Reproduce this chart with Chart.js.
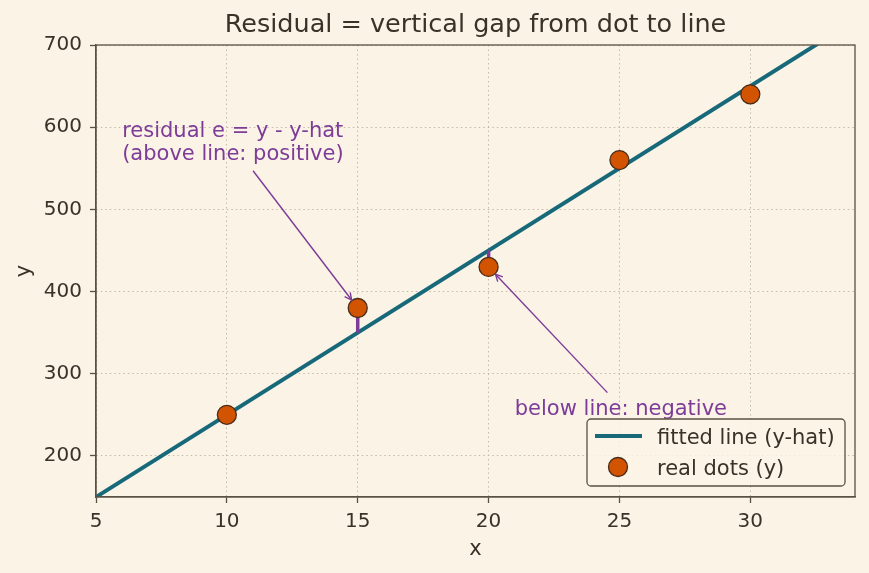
<!DOCTYPE html>
<html>
<head>
<meta charset="utf-8">
<script src="https://cdn.jsdelivr.net/npm/chart.js@4"></script>
<style>
html,body{margin:0;padding:0;background:#FAF3E6;}
canvas{display:block;}
</style>
</head>
<body>
<canvas id="c" width="869" height="573"></canvas>
<script>
// ---- data ----
const dotX = [10, 15, 20, 25, 30];
const dotY = [250, 380, 430, 560, 640];
const fitSlope = 20;
const fitIntercept = 50;
const fitLineX = [5, 35];
const residualX = [15, 20];
const xTicks = [5, 10, 15, 20, 25, 30];
const yTicks = [200, 300, 400, 500, 600, 700];
const xRange = [5, 34];
const yRange = [150, 700];
const titleText = 'Residual = vertical gap from dot to line';
const annotAbove = ['residual e = y - y-hat', '(above line: positive)'];
const annotAbovePos = [6.0, 560];
const arrowAbove = [[11.0, 547], [15, 380]];
const annotBelow = 'below line: negative';
const annotBelowPos = [21.0, 250];
const arrowBelow = [[24.54, 277], [20, 430]];
const legendLabels = ['fitted line (y-hat)', 'real dots (y)'];

// ---- styles ----
const BG = '#FAF3E6';
const TEXT = '#3b3128';
const AXIS = '#5b5044';
const GRID = '#c4baa9';
const TEAL = '#17697A';
const ORANGE = '#D35400';
const DOTEDGE = '#4a2c1a';
const PURPLE = '#7D3C98';
const FONT = "'DejaVu Sans', sans-serif";
const FS = 21;
const TFS = 20;

const fitY = x => fitSlope * x + fitIntercept;

const lineData = fitLineX.map(x => ({x, y: fitY(x)}));
const dotData = dotX.map((x, i) => ({x, y: dotY[i]}));
const residualSets = residualX.map(x => {
  const i = dotX.indexOf(x);
  return {
    label: 'res' + x,
    type: 'line',
    data: [{x, y: dotY[i]}, {x, y: fitY(x)}],
    borderColor: PURPLE,
    borderWidth: 3.5,
    pointRadius: 0,
    showLine: true,
    order: 2
  };
});

function drawArrow(ctx, x1, y1, x2, y2, shrink) {
  const dx = x2 - x1, dy = y2 - y1;
  const len = Math.hypot(dx, dy);
  const ux = dx / len, uy = dy / len;
  const ex = x2 - ux * shrink, ey = y2 - uy * shrink;
  ctx.beginPath();
  ctx.moveTo(x1, y1);
  ctx.lineTo(ex, ey);
  ctx.stroke();
  const hl = 7, hw = 3.5;
  ctx.beginPath();
  ctx.moveTo(ex - ux * hl + uy * hw, ey - uy * hl - ux * hw);
  ctx.lineTo(ex, ey);
  ctx.lineTo(ex - ux * hl - uy * hw, ey - uy * hl + ux * hw);
  ctx.stroke();
}

const decor = {
  id: 'decor',
  beforeDraw(chart) {
    const ctx = chart.ctx;
    ctx.save();
    ctx.fillStyle = BG;
    ctx.fillRect(0, 0, chart.width, chart.height);
    ctx.restore();
  },
  afterDraw(chart) {
    const ctx = chart.ctx;
    const xs = chart.scales.x, ys = chart.scales.y;
    const a = chart.chartArea;
    ctx.save();
    // frame
    ctx.strokeStyle = AXIS;
    ctx.lineWidth = 1.3;
    ctx.strokeRect(a.left, a.top, a.right - a.left, a.bottom - a.top);
    // title
    ctx.fillStyle = TEXT;
    ctx.font = '25.5px ' + FONT;
    ctx.textAlign = 'center';
    ctx.textBaseline = 'middle';
    ctx.fillText(titleText, (a.left + a.right) / 2, 25);
    // axis titles
    ctx.font = FS + 'px ' + FONT;
    ctx.fillText('x', (a.left + a.right) / 2, 550);
    ctx.save();
    ctx.translate(25, (a.top + a.bottom) / 2);
    ctx.rotate(-Math.PI / 2);
    ctx.fillText('y', 0, 0);
    ctx.restore();

    // annotations
    ctx.fillStyle = PURPLE;
    ctx.strokeStyle = PURPLE;
    ctx.lineWidth = 1.4;
    ctx.textAlign = 'left';
    ctx.textBaseline = 'alphabetic';
    ctx.font = FS + 'px ' + FONT;
    const ax = xs.getPixelForValue(annotAbovePos[0]);
    const ay = ys.getPixelForValue(annotAbovePos[1]);
    ctx.fillText(annotAbove[0], ax, ay - 23);
    ctx.fillText(annotAbove[1], ax, ay);
    const bx = xs.getPixelForValue(annotBelowPos[0]);
    const by = ys.getPixelForValue(annotBelowPos[1]);
    ctx.fillText(annotBelow, bx, by);
    drawArrow(ctx,
      xs.getPixelForValue(arrowAbove[0][0]), ys.getPixelForValue(arrowAbove[0][1]),
      xs.getPixelForValue(arrowAbove[1][0]), ys.getPixelForValue(arrowAbove[1][1]), 10);
    drawArrow(ctx,
      xs.getPixelForValue(arrowBelow[0][0]), ys.getPixelForValue(arrowBelow[0][1]),
      xs.getPixelForValue(arrowBelow[1][0]), ys.getPixelForValue(arrowBelow[1][1]), 10);

    // legend
    const lx = 587, ly = 419, lw = 258, lh = 67;
    ctx.beginPath();
    if (ctx.roundRect) ctx.roundRect(lx, ly, lw, lh, 4); else ctx.rect(lx, ly, lw, lh);
    ctx.fillStyle = 'rgba(250,243,230,0.85)';
    ctx.fill();
    ctx.strokeStyle = AXIS;
    ctx.lineWidth = 1.3;
    ctx.stroke();
    ctx.strokeStyle = TEAL;
    ctx.lineWidth = 4;
    ctx.beginPath();
    ctx.moveTo(595, 436);
    ctx.lineTo(642, 436);
    ctx.stroke();
    ctx.beginPath();
    ctx.arc(618, 467, 9.5, 0, Math.PI * 2);
    ctx.fillStyle = ORANGE;
    ctx.fill();
    ctx.strokeStyle = DOTEDGE;
    ctx.lineWidth = 1.3;
    ctx.stroke();
    ctx.fillStyle = TEXT;
    ctx.font = FS + 'px ' + FONT;
    ctx.textBaseline = 'alphabetic';
    ctx.fillText(legendLabels[0], 657, 444);
    ctx.fillText(legendLabels[1], 657, 475);
    ctx.restore();
  }
};

new Chart(document.getElementById('c'), {
  type: 'scatter',
  data: {
    datasets: [
      {
        label: legendLabels[0],
        type: 'line',
        data: lineData,
        borderColor: TEAL,
        borderWidth: 4,
        pointRadius: 0,
        showLine: true,
        order: 3
      },
      ...residualSets,
      {
        label: legendLabels[1],
        data: dotData,
        backgroundColor: ORANGE,
        borderColor: DOTEDGE,
        borderWidth: 1.3,
        pointRadius: 9.5,
        pointHoverRadius: 9.5,
        order: 1
      }
    ]
  },
  options: {
    responsive: false,
    animation: false,
    events: [],
    layout: {padding: {top: 45, right: 14, left: 0, bottom: 0}},
    plugins: {
      legend: {display: false},
      title: {display: false},
      tooltip: {enabled: false}
    },
    scales: {
      x: {
        type: 'linear',
        min: xRange[0],
        max: xRange[1],
        afterBuildTicks: s => { s.ticks = xTicks.map(v => ({value: v})); },
        afterFit: s => { s.height = 76; },
        ticks: {color: TEXT, font: {size: TFS, family: FONT}, padding: 7, maxRotation: 0},
        grid: {color: GRID, lineWidth: 1, tickLength: 6, tickColor: AXIS, tickWidth: 1.3, tickBorderDash: []},
        border: {display: true, color: AXIS, width: 1.3, dash: [1.5, 3]}
      },
      y: {
        type: 'linear',
        min: yRange[0],
        max: yRange[1],
        afterBuildTicks: s => { s.ticks = yTicks.map(v => ({value: v})); },
        afterFit: s => { s.width = 96; },
        ticks: {color: TEXT, font: {size: TFS, family: FONT}, padding: 8},
        grid: {color: GRID, lineWidth: 1, tickLength: 6, tickColor: AXIS, tickWidth: 1.3, tickBorderDash: []},
        border: {display: true, color: AXIS, width: 1.3, dash: [1.5, 3]}
      }
    }
  },
  plugins: [decor]
});
</script>
</body>
</html>
